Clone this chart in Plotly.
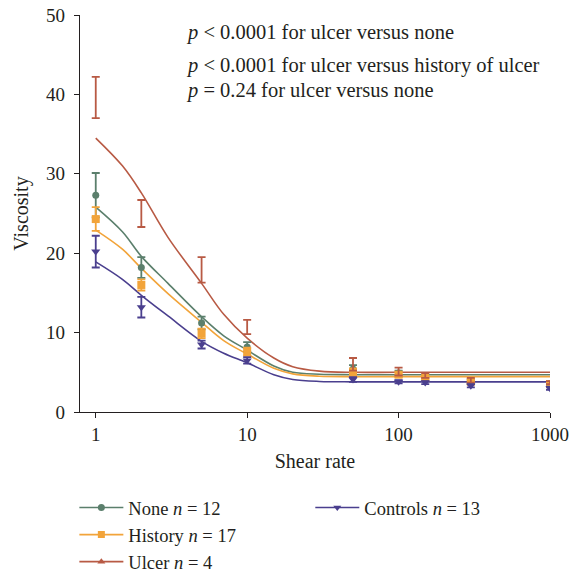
import plotly.graph_objects as go

# ---- data ----
shear = [1, 2, 5, 10, 50, 100, 150, 300, 1000]

none_mean = [27.3, 18.2, 11.2, 8.2, 5.4, 4.9, 4.5, 3.9, 3.6]
none_err = [2.8, 1.3, 0.8, 0.6, 0.5, 0.3, 0.2, 0.2, 0.2]
hist_mean = [24.3, 16.0, 9.9, 7.6, 5.0, 4.7, 4.3, 3.8, 3.5]
hist_err = [1.5, 0.7, 0.6, 0.5, 0.5, 0.3, 0.2, 0.2, 0.2]
ulcer_mean = [39.6, 25.0, 17.9, 10.7, 6.0, 5.1, 4.6, 4.0, 3.7]
ulcer_err = [2.6, 1.7, 1.6, 0.9, 0.8, 0.5, 0.3, 0.3, 0.2]
ctrl_mean = [20.2, 13.2, 8.5, 6.5, 4.1, 3.8, 3.7, 3.3, 3.0]
ctrl_err = [2.0, 1.3, 0.5, 0.4, 0.3, 0.2, 0.2, 0.2, 0.2]

# fitted curves
curve_x = [1, 1.5, 2, 3, 5, 7, 10, 15, 20, 30, 50, 100, 1000]
none_fit = [25.8, 22.7, 19.6, 16.2, 12.0, 9.6, 7.8, 5.8, 5.0, 4.75, 4.7, 4.7, 4.7]
hist_fit = [22.9, 20.5, 18.1, 14.9, 11.3, 9.0, 7.3, 5.5, 4.8, 4.5, 4.45, 4.45, 4.45]
ulcer_fit = [34.5, 31.0, 27.6, 22.0, 16.2, 12.3, 9.3, 6.8, 5.7, 5.15, 5.0, 5.0, 5.0]
ctrl_fit = [18.9, 16.7, 14.7, 12.1, 8.9, 7.4, 6.2, 4.7, 4.1, 3.85, 3.8, 3.8, 3.8]

legend_names = ["None <i>n</i> = 12", "History <i>n</i> = 17",
                "Ulcer <i>n</i> = 4", "Controls <i>n</i> = 13"]
p_texts = ["<i>p</i> < 0.0001 for ulcer versus none",
           "<i>p</i> < 0.0001 for ulcer versus history of ulcer",
           "<i>p</i> = 0.24 for ulcer versus none"]

FONT = "Liberation Serif"
TXT = "#231f20"
C_NONE = "#5b7f6c"
C_HIST = "#f2a43a"
C_ULC = "#b85a44"
C_CTRL = "#4a3f8e"

groups = [
    (none_mean, none_err, none_fit, C_NONE, "circle", 7, 1, "legend"),
    (hist_mean, hist_err, hist_fit, C_HIST, "square", 8, 1, "legend"),
    (ulcer_mean, ulcer_err, ulcer_fit, C_ULC, "triangle-up", 8, 0, "legend"),
    (ctrl_mean, ctrl_err, ctrl_fit, C_CTRL, "triangle-down", 8, 1, "legend2"),
]

fig = go.Figure()

for (m, e, f, c, sym, sz, op, lg) in groups:
    fig.add_trace(go.Scatter(x=curve_x, y=f, mode="lines",
                             line=dict(color=c, width=1.6, shape="spline", smoothing=1.0),
                             showlegend=False, hoverinfo="skip"))

for (m, e, f, c, sym, sz, op, lg) in groups:
    fig.add_trace(go.Scatter(x=shear, y=m, mode="markers",
                             marker=dict(symbol=sym, size=sz, color=c, opacity=op),
                             error_y=dict(type="data", array=e, visible=True,
                                          color=c, thickness=1.8, width=4),
                             showlegend=False))

for (g, name) in zip(groups, legend_names):
    m, e, f, c, sym, sz, op, lg = g
    fig.add_trace(go.Scatter(x=[None], y=[None], mode="lines+markers", name=name,
                             line=dict(color=c, width=1.6),
                             marker=dict(symbol=sym, size=7, color=c),
                             legend=lg))

ann_y = [0.955, 0.874, 0.811]
for t, yy in zip(p_texts, ann_y):
    fig.add_annotation(text=t, xref="paper", yref="paper", x=0.221, y=yy,
                       xanchor="left", yanchor="middle", showarrow=False,
                       font=dict(family=FONT, size=20.5, color=TXT))

axis_common = dict(showline=True, linecolor=TXT, linewidth=1.3, ticks="outside",
                   ticklen=5, tickcolor=TXT, tickwidth=1.3, showgrid=False,
                   zeroline=False, automargin=False,
                   tickfont=dict(family=FONT, size=19, color=TXT))

fig.update_layout(
    width=572, height=573,
    margin=dict(l=80, r=22, t=15, b=161, autoexpand=False),
    plot_bgcolor="white", paper_bgcolor="white",
    font=dict(family=FONT, size=20, color=TXT),
    xaxis=dict(type="log", range=[-0.104, 3.0], tickvals=[1, 10, 100, 1000],
               ticktext=["1", "10", "100", "1000"],
               title=dict(text="Shear rate", font=dict(family=FONT, size=20, color=TXT), standoff=10),
               **axis_common),
    yaxis=dict(range=[0, 50], tickvals=[0, 10, 20, 30, 40, 50], ticklabelstandoff=5,
               title=dict(text="Viscosity", font=dict(family=FONT, size=20, color=TXT), standoff=12),
               **axis_common),
    legend=dict(x=-0.012, y=-0.194, xanchor="left", yanchor="top", orientation="v",
                font=dict(family=FONT, size=18.5, color=TXT), itemwidth=44,
                bgcolor="rgba(0,0,0,0)"),
    legend2=dict(x=0.49, y=-0.194, xanchor="left", yanchor="top", orientation="v",
                 font=dict(family=FONT, size=18.5, color=TXT), itemwidth=44,
                 bgcolor="rgba(0,0,0,0)"),
    showlegend=True,
)

fig.write_html("out.html", config={"displayModeBar": False},
               post_script="document.body.style.margin='0';document.body.style.overflow='hidden';")
